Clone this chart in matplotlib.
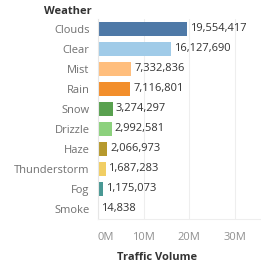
import matplotlib
matplotlib.use("Agg")
import matplotlib.pyplot as plt
from matplotlib.ticker import FuncFormatter

# traffic volume by weather
weather = ['Clouds', 'Clear', 'Mist', 'Rain', 'Snow', 'Drizzle', 'Haze',
           'Thunderstorm', 'Fog', 'Smoke']
volume = [19554417, 16127690, 7332836, 7116801, 3274297, 2992581, 2066973,
          1687283, 1175073, 14838]
colors = ['#4e79a7', '#a0cbe8', '#ffbe7d', '#f28e2b', '#59a14f', '#8cd17d',
          '#b6992d', '#f1ce63', '#499894', '#86bcb6']

plt.rcParams['font.family'] = ['Open Sans', 'DejaVu Sans']

fig = plt.figure(figsize=(2.61, 2.66), dpi=100)
ax = fig.add_axes([98 / 261, 1 - 219 / 266, 1 - 98 / 261, 200 / 266])

ypos = list(range(len(weather)))
ax.barh(ypos, volume, height=0.7, color=colors, zorder=2)
for y, v in zip(ypos, volume):
    ax.text(v + 0.6e6, y, f'{v:,}', va='center', ha='left', fontsize=8,
            color='#333333', zorder=3)

ax.set_ylim(len(weather) - 0.5, -0.5)
ax.set_xlim(0, 35.8e6)
ax.set_yticks(ypos)
ax.set_yticklabels(weather, fontsize=8, color='#707070')
ax.set_xticks([0, 10e6, 20e6, 30e6])
ax.xaxis.set_major_formatter(FuncFormatter(lambda x, p: f'{x / 1e6:.0f}M'))
ax.tick_params(axis='x', labelsize=8, labelcolor='#909090', length=0, pad=9)
ax.tick_params(axis='y', length=0, pad=6)
ax.get_xticklabels()[0].set_horizontalalignment('left')

ax.grid(axis='x', color='#eeeeee', linewidth=0.8, zorder=0)
for s in ['top', 'right']:
    ax.spines[s].set_visible(False)
ax.spines['left'].set_color('#e6e6e6')
ax.spines['bottom'].set_color('#eeeeee')
ax.spines['left'].set_linewidth(0.8)
ax.spines['bottom'].set_linewidth(0.8)

fig.text(92 / 261, 1 - 11 / 266, 'Weather', ha='right', va='center',
         fontsize=8, fontweight='bold', color='#333333')
fig.text(0.6, 1 - 258 / 266, 'Traffic Volume', ha='center', va='center',
         fontsize=8, fontweight='bold', color='#333333')

fig.savefig('out.png', dpi=100)
